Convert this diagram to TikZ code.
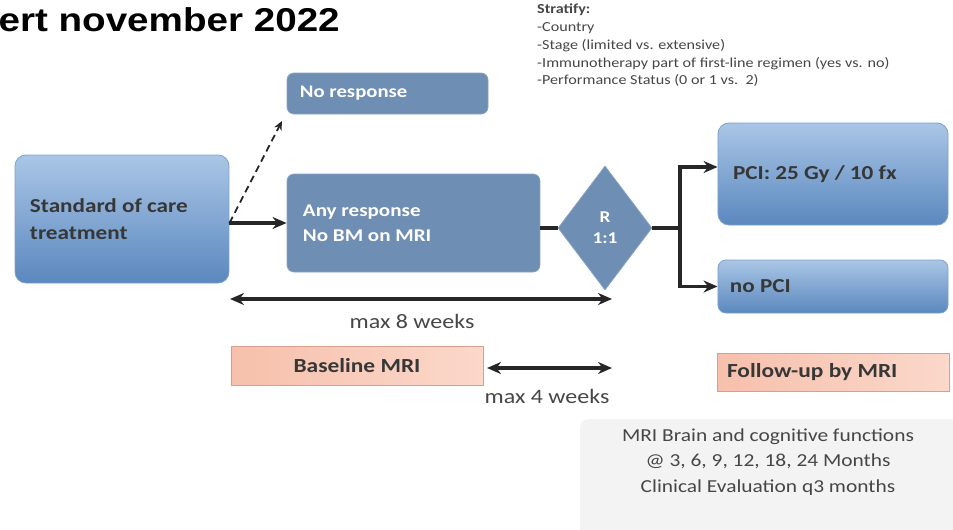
\documentclass[tikz,border=0pt]{standalone}
\usepackage{fontspec}
\setmainfont{Carlito}
\newfontfamily\titlefont{Liberation Sans}
\usetikzlibrary{shapes.geometric,arrows.meta,calc}
\definecolor{flatblue}{RGB}{111,142,180}
\definecolor{flatedge}{RGB}{135,162,196}
\definecolor{gradtop}{RGB}{170,198,230}
\definecolor{gradbot}{RGB}{90,136,190}
\definecolor{gradedge}{RGB}{125,160,204}
\definecolor{peachdark}{RGB}{246,192,172}
\definecolor{peachlight}{RGB}{251,216,202}
\definecolor{peachedge}{RGB}{215,160,142}
\definecolor{inkdark}{RGB}{38,38,38}
\definecolor{txtdark}{RGB}{55,55,55}
\definecolor{txtgray}{RGB}{70,70,70}
\definecolor{panelgray}{RGB}{243,243,243}
\begin{document}
\begin{tikzpicture}[x=1pt,y=-1pt,
  sq/.style={xscale=1.17},
  flatbox/.style={sq, draw=flatedge, line width=0.8pt, fill=flatblue, rounded corners=7pt,
    text=white, font=\bfseries\fontsize{18}{25}\selectfont, inner sep=0pt, align=flush left},
  gradbox/.style={sq, draw=gradedge, line width=0.8pt, top color=gradtop, bottom color=gradbot,
    rounded corners=11pt, text=txtdark, font=\bfseries\fontsize{19.8}{27}\selectfont,
    inner sep=0pt, align=flush left},
  peachbox/.style={sq, draw=peachedge, line width=0.6pt, left color=peachdark, right color=peachlight,
    text=txtdark, font=\bfseries\fontsize{20}{22}\selectfont, inner sep=0pt},
  arr/.style={draw=inkdark, line width=3.3pt, -{Stealth[length=14pt,width=12pt]}},
  dbl/.style={draw=inkdark, line width=3.3pt, {Stealth[length=14pt,width=12pt]}-{Stealth[length=14pt,width=12pt]}},
  lbl/.style={sq, text=txtgray, font=\fontsize{20.5}{24}\selectfont, inner sep=0pt}
]
\useasboundingbox (0,0) rectangle (953,530);

% title
\node[anchor=base east, inner sep=0pt, xscale=1.17, font=\titlefont\bfseries\fontsize{33}{38}\selectfont] (title) at (340,31) {ert november 2022};

% stratify
\node[sq, anchor=north west, inner sep=0pt, align=flush left, text=txtgray, font=\fontsize{13.8}{17.7}\selectfont] (strat) at (537,4)
 {\textbf{Stratify:}\\-Country\\-Stage (limited vs. extensive)\\-Immunotherapy part of first-line regimen (yes vs. no)\\-Performance Status (0 or 1 vs.\ \ 2)};

% boxes
\node[flatbox, font=\bfseries\fontsize{17.7}{22}\selectfont, minimum width=171.8, minimum height=41, text width=149.6] (nr) at (387.5,93.5) {No response};
\node[gradbox, minimum width=182.9, minimum height=128, text width=157.3] (sc) at (122,219) {Standard of care\\treatment};
\node[flatbox, minimum width=216.2, minimum height=98, text width=188.9] (any) at (413.5,223) {Any response\\No BM on MRI};
\node[diamond, sq, draw=flatedge, line width=0.8pt, fill=flatblue, minimum width=80.3, minimum height=124, inner sep=0pt,
  text=white, align=center, font=\bfseries\fontsize{16.5}{21}\selectfont] (dia) at (605,228) {R\\1:1};
\node[gradbox, minimum width=196.6, minimum height=102, text width=170.9] (pci) at (833,174) {PCI: 25 Gy / 10 fx};
\node[gradbox, rounded corners=8pt, minimum width=196.6, minimum height=53, text width=176.1] (nopci) at (833,286.5) {no PCI};

\node[peachbox, minimum width=215.4, minimum height=39] (base) at (357,365.5) {Baseline MRI};
\node[peachbox, minimum width=198.3, minimum height=38, text width=181.2, align=flush left] (fu) at (833,372) {Follow-up by MRI};

% gray panel
\node[fill=panelgray, rounded corners=8pt, minimum width=390, minimum height=125, anchor=north west, inner sep=0pt] (panel) at (580,419) {};
\node[sq, align=center, text=txtgray, font=\fontsize{18.3}{25.5}\selectfont, inner sep=0pt] (ptext) at (768,462)
 {MRI Brain and cognitive functions\\@ 3, 6, 9, 12, 18, 24 Months\\Clinical Evaluation q3 months};

% connectors
\coordinate (start) at (sc.east |- any.west);
\draw[arr] (start) -- (any.west);
\coordinate (nrtip) at (282,121);
\draw[inkdark, line width=1.8pt, dash pattern=on 7pt off 4.5pt, -{Stealth[length=9pt,width=8pt]}] (start) -- (nrtip);
\draw[draw=inkdark, line width=3.3pt] (any.east |- dia.west) -- (dia.west);
\coordinate (split) at (680,228);
\draw[draw=inkdark, line width=3.3pt] (dia.east) -- (split);
\draw[arr] (split) |- ([yshift=7pt]pci.west);
\draw[arr] (split) |- (nopci.west);

% durations
\coordinate (m8a) at (230,299);
\coordinate (m8b) at (612,299);
\draw[dbl] (m8a) -- (m8b);
\node[lbl] (m8) at (412,321) {max 8 weeks};
\coordinate (m4a) at (487,368);
\coordinate (m4b) at (612,368);
\draw[dbl] (m4a) -- (m4b);
\node[lbl] (m4) at (547,396) {max 4 weeks};
\end{tikzpicture}
\end{document}
